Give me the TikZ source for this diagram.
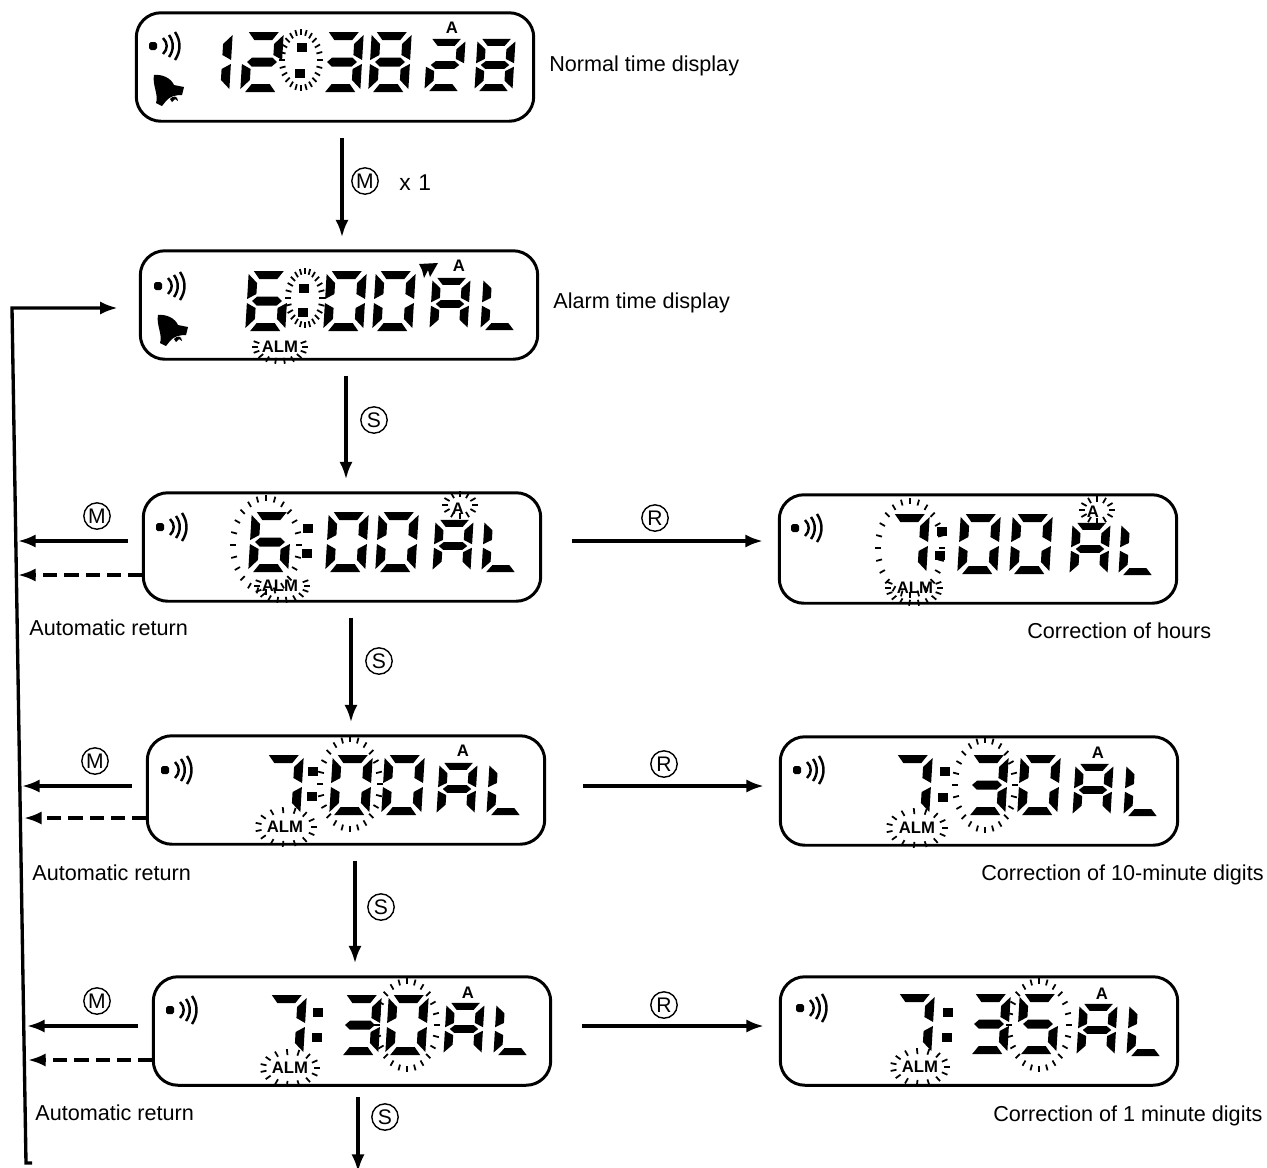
\documentclass[tikz,border=0pt]{standalone}
\usepackage{fontspec}
\setmainfont{Liberation Sans}
\usetikzlibrary{positioning,calc,arrows.meta}
\tikzset{>=latex}
\tikzset{
	lcdbox/.style={draw, line width=1.7pt, rounded corners=14pt, inner sep=0pt, minimum width=7.95cm, minimum height=2.17cm},
	flowline/.style={line width=1.9pt, -{Latex[length=10pt,width=7.5pt]}},
	dashflow/.style={flowline, dash pattern=on 8pt off 4pt},
	stepline/.style={flowline, shorten <=8.5pt, shorten >=6.8pt},
	keyline/.style={flowline, shorten <=8pt},
	fixline/.style={flowline, shorten <=17pt, shorten >=8.5pt},
	keymark/.style={draw, circle, line width=0.8pt, inner sep=0pt, minimum size=15pt, font=\fontsize{12}{12}\selectfont},
	caption/.style={anchor=west, inner sep=0pt, font=\fontsize{12.3}{14}\selectfont},
	lcdtag/.style={inner sep=0pt, font=\fontsize{9.5}{10}\selectfont\bfseries},
	blink/.style={line width=1pt},
}
% single segments of a digit, y runs downward
\newcommand{\sega}{\fill (-15,-30) -- (15,-30) -- (9,-22) -- (-9,-22) -- cycle;}
\newcommand{\segd}{\fill (-15,30) -- (15,30) -- (9,22) -- (-9,22) -- cycle;}
\newcommand{\segg}{\fill (-15,0) -- (-10,-4.5) -- (10,-4.5) -- (15,0) -- (10,4.5) -- (-10,4.5) -- cycle;}
\newcommand{\segf}{\fill (-20,-27) -- (-11,-18) -- (-11,-7) -- (-20,-2) -- cycle;}
\newcommand{\sege}{\fill (-20,27) -- (-11,18) -- (-11,7) -- (-20,2) -- cycle;}
\newcommand{\segb}{\fill (20,-27) -- (11,-18) -- (11,-7) -- (20,-2) -- cycle;}
\newcommand{\segc}{\fill (20,27) -- (11,18) -- (11,7) -- (20,2) -- cycle;}
\newcommand{\lcdzero}{\sega\segb\segc\segd\sege\segf}
\newcommand{\lcdone}{\segb\segc}
\newcommand{\lcdtwo}{\sega\segb\segg\sege\segd}
\newcommand{\lcdthree}{\sega\segb\segg\segc\segd}
\newcommand{\lcdfive}{\sega\segf\segg\segc\segd}
\newcommand{\lcdsix}{\sega\segf\segg\sege\segc\segd}
\newcommand{\lcdseven}{\sega\segb\segc}
\newcommand{\lcdeight}{\sega\segb\segc\segd\sege\segf\segg}
\newcommand{\lcdA}{\sega\segb\segc\sege\segf\segg}
\newcommand{\lcdL}{\segf\sege\segd}
\newcommand{\bigdigit}[3]{\begin{scope}[shift={(#1,#2)}, xslant=0.06] #3 \end{scope}}
\newcommand{\smalldigit}[3]{\begin{scope}[shift={(#1,#2)}, xslant=0.06, xscale=0.95, yscale=0.87] #3 \end{scope}}
\newcommand{\lcddots}[4]{\fill[shift={(#1,#2)}] (-5,-4.5) rectangle (5,4.5); \fill[shift={(#3,#4)}] (-5,-4.5) rectangle (5,4.5);}
\newcommand{\blinkring}[5]{\begin{scope}[shift={(#1,#2)}]
	\foreach \a in #5 {\draw[blink] ({(#3-6)*cos(\a)},{(#4-6)*sin(\a)}) -- ({#3*cos(\a)},{#4*sin(\a)});}
\end{scope}}
\newcommand{\soundicon}[2]{\begin{scope}[shift={(#1,#2)}, line width=1.4pt]
	\fill[rounded corners=1pt] (-4,-4) rectangle (4,4);
	\draw (10,-8) .. controls (15,-3) and (15,3) .. (10,8);
	\draw (16,-11) .. controls (21,-4) and (21,4) .. (16,11);
	\draw (22,-14) .. controls (28,-5) and (28,5) .. (22,14);
\end{scope}}
\newcommand{\bellicon}[2]{\begin{scope}[shift={(#1,#2)}]
	\fill (-14,-15) .. controls (-6,-16) and (3,-12) .. (6,-5) -- (16,-3) -- (14,5) .. controls (8,5) and (2,6) .. (-2,11) -- (-6,16) -- (-12,13) .. controls (-9,5) and (-16,-5) .. (-14,-15);
	\fill (2,9) .. controls (5,5) and (10,6) .. (10,11) -- (7,9) -- (4,12) -- cycle;
\end{scope}}
\newcommand{\allrays}{0,15,...,345}
\newcommand{\almrays}{-20,0,...,200}
\newcommand{\fullalmrays}{0,24,...,336}
\newcommand{\tagrays}{0,30,...,330}
\begin{document}
\begin{tikzpicture}[x=0.02cm,y=-0.02cm]
	\useasboundingbox (0,0) rectangle (1267,1167);

	% the displays
	\node[lcdbox] (normalbox) at (335,67) {};
	\node[lcdbox] (alarmbox) at (339,305) {};
	\node[lcdbox] (hourbox) at (342,547) {};
	\node[lcdbox] (hourfix) at (978,549) {};
	\node[lcdbox] (tenbox) at (346,790) {};
	\node[lcdbox] (tenfix) at (979,791) {};
	\node[lcdbox] (onebox) at (352,1031) {};
	\node[lcdbox] (onefix) at (979,1031) {};

	% normal time
	\soundicon{153}{46}
	\bellicon{168}{90}
	\bigdigit{211}{62}{\lcdone}
	\bigdigit{262}{62}{\lcdtwo}
	\lcddots{302}{47}{300}{73}
	\blinkring{301}{60}{22}{31}{\allrays}
	\bigdigit{342}{62}{\lcdthree}
	\bigdigit{390}{62}{\lcdeight}
	\smalldigit{445}{65}{\lcdtwo}
	\smalldigit{495}{65}{\lcdeight}
	\node[lcdtag] (normaltag) at (452,28) {A};

	% alarm time
	\soundicon{158}{286}
	\bellicon{172}{330}
	\bigdigit{267}{301}{\lcdsix}
	\lcddots{304}{288}{303}{312}
	\blinkring{305}{298}{20}{30}{\allrays}
	\bigdigit{345}{301}{\lcdzero}
	\bigdigit{394}{301}{\lcdzero}
	\fill (419,264) -- (438,263) -- (430,277) -- (428,270) -- (424,278) -- (422,270) -- cycle;
	\smalldigit{450}{304}{\lcdA}
	\smalldigit{501}{304}{\lcdL}
	\node[lcdtag] (alarmtag) at (459,266) {A};
	\node[lcdtag] (alarmalm) at (280,347) {ALM};
	\blinkring{280}{347}{28}{17}{\almrays}

	% hours
	\soundicon{160}{527}
	\bigdigit{270}{542}{\lcdsix}
	\lcddots{308}{528}{307}{553}
	\blinkring{266}{545}{36}{50}{\allrays}
	\bigdigit{347}{542}{\lcdzero}
	\bigdigit{397}{542}{\lcdzero}
	\smalldigit{453}{546}{\lcdA}
	\smalldigit{502}{546}{\lcdL}
	\node[lcdtag] (hourtag) at (458,509) {A};
	\blinkring{460}{505}{18}{14}{\tagrays}
	\node[lcdtag] (houralm) at (280,586) {ALM};
	\blinkring{282}{586}{28}{17}{\almrays}

	\soundicon{795}{528}
	\bigdigit{908}{544}{\lcdseven}
	\lcddots{942}{531}{940}{555}
	\blinkring{910}{548}{35}{50}{\allrays}
	\bigdigit{979}{544}{\lcdzero}
	\bigdigit{1031}{544}{\lcdzero}
	\smalldigit{1090}{549}{\lcdA}
	\smalldigit{1139}{549}{\lcdL}
	\node[lcdtag] (hourfixtag) at (1093,512) {A};
	\blinkring{1097}{510}{18}{14}{\tagrays}
	\node[lcdtag] (hourfixalm) at (915,588) {ALM};
	\blinkring{914}{588}{29}{18}{\almrays}

	% 10-minute digits
	\soundicon{165}{770}
	\bigdigit{282}{785}{\lcdseven}
	\lcddots{313}{771}{312}{796}
	\bigdigit{351}{785}{\lcdzero}
	\blinkring{350}{784}{33}{48}{\allrays}
	\bigdigit{403}{785}{\lcdzero}
	\smalldigit{457}{789}{\lcdA}
	\smalldigit{507}{789}{\lcdL}
	\node[lcdtag] (tentag) at (463,751) {A};
	\node[lcdtag] (tenalm) at (285,827) {ALM};
	\blinkring{286}{827}{31}{20}{\fullalmrays}

	\soundicon{797}{770}
	\bigdigit{911}{785}{\lcdseven}
	\lcddots{945}{771}{943}{797}
	\bigdigit{987}{785}{\lcdthree}
	\blinkring{985}{785}{33}{48}{\allrays}
	\bigdigit{1039}{785}{\lcdzero}
	\smalldigit{1093}{790}{\lcdA}
	\smalldigit{1144}{790}{\lcdL}
	\node[lcdtag] (tenfixtag) at (1098,753) {A};
	\node[lcdtag] (tenfixalm) at (917,828) {ALM};
	\blinkring{917}{828}{31}{20}{\fullalmrays}

	% 1 minute digits
	\soundicon{170}{1010}
	\bigdigit{285}{1025}{\lcdseven}
	\lcddots{318}{1012}{317}{1037}
	\bigdigit{360}{1025}{\lcdthree}
	\bigdigit{407}{1025}{\lcdzero}
	\blinkring{407}{1025}{33}{47}{\allrays}
	\smalldigit{464}{1029}{\lcdA}
	\smalldigit{514}{1029}{\lcdL}
	\node[lcdtag] (onetag) at (468,993) {A};
	\node[lcdtag] (onealm) at (290,1068) {ALM};
	\blinkring{290}{1068}{30}{19}{\fullalmrays}

	\soundicon{800}{1008}
	\bigdigit{913}{1024}{\lcdseven}
	\lcddots{948}{1012}{947}{1037}
	\bigdigit{989}{1024}{\lcdthree}
	\bigdigit{1038}{1024}{\lcdfive}
	\blinkring{1039}{1025}{33}{47}{\allrays}
	\smalldigit{1097}{1030}{\lcdA}
	\smalldigit{1147}{1030}{\lcdL}
	\node[lcdtag] (onefixtag) at (1102,994) {A};
	\node[lcdtag] (onefixalm) at (920,1067) {ALM};
	\blinkring{920}{1067}{30}{19}{\fullalmrays}

	% captions
	\node[caption] (normaltext) at (549,66) {Normal time display};
	\node[caption] (alarmtext) at (553,303) {Alarm time display};
	\node[caption] (hourback) at (29,628) {Automatic return};
	\node[caption] (tenback) at (32,873) {Automatic return};
	\node[caption] (oneback) at (35,1113) {Automatic return};
	\node[caption] (hourtext) at (1027,631) {Correction of hours};
	\node[caption] (tentext) at (981,875) {Correction of 10-minute digits};
	\node[caption] (onetext) at (993,1116) {Correction of 1 minute digits};

	% downward steps
	\coordinate (stepa) at (342,0);
	\coordinate (stepb) at (346,0);
	\coordinate (stepc) at (351,0);
	\coordinate (stepd) at (355,0);
	\coordinate (stepe) at (358,1172);
	\draw[stepline] (stepa |- normalbox.south) -- (stepa |- alarmbox.north);
	\draw[stepline] (stepb |- alarmbox.south) -- (stepb |- hourbox.north);
	\draw[stepline] (stepc |- hourbox.south) -- (stepc |- tenbox.north);
	\draw[stepline] (stepd |- tenbox.south) -- (stepd |- onebox.north);
	\draw[flowline, shorten <=6pt] (stepe |- onebox.south) -- (stepe);

	\node[keymark] (keya) at (365,181) {M};
	\node[anchor=west, inner sep=0pt, font=\fontsize{13}{15}\selectfont] (keytimes) at (399,183) {x\,\,1};
	\node[keymark] (keyb) at (374,420) {S};
	\node[keymark] (keyc) at (379,661) {S};
	\node[keymark] (keyd) at (381,907) {S};
	\node[keymark] (keye) at (385,1117) {S};

	% return line on the left
	\coordinate (retstart) at (32,1163);
	\coordinate (retfoot) at (26,1163);
	\coordinate (retcorner) at (12,308);
	\draw[flowline, shorten >=12pt] (retstart) -- (retfoot) -- (retcorner) -- (retcorner -| alarmbox.west);

	\coordinate (hourm) at (18,541);
	\coordinate (hourd) at (18,575);
	\coordinate (tenm) at (22,786);
	\coordinate (tend) at (24,818);
	\coordinate (onem) at (27,1026);
	\coordinate (oned) at (28,1060);
	\draw[keyline] (hourm -| hourbox.west) -- (hourm);
	\draw[dashflow] (hourd -| hourbox.west) -- (hourd);
	\draw[keyline] (tenm -| tenbox.west) -- (tenm);
	\draw[dashflow] (tend -| tenbox.west) -- (tend);
	\draw[keyline] (onem -| onebox.west) -- (onem);
	\draw[dashflow] (oned -| onebox.west) -- (oned);
	\node[keymark] (keym1) at (97,516) {M};
	\node[keymark] (keym2) at (95,761) {M};
	\node[keymark] (keym3) at (97,1001) {M};

	\draw[fixline] (hourm -| hourbox.east) -- (hourm -| hourfix.west);
	\draw[fixline, shorten <=21pt] (tenm -| tenbox.east) -- (tenm -| tenfix.west);
	\draw[fixline] (onem -| onebox.east) -- (onem -| onefix.west);
	\node[keymark] (keyr1) at (655,518) {R};
	\node[keymark] (keyr2) at (664,764) {R};
	\node[keymark] (keyr3) at (664,1005) {R};
\end{tikzpicture}
\end{document}
